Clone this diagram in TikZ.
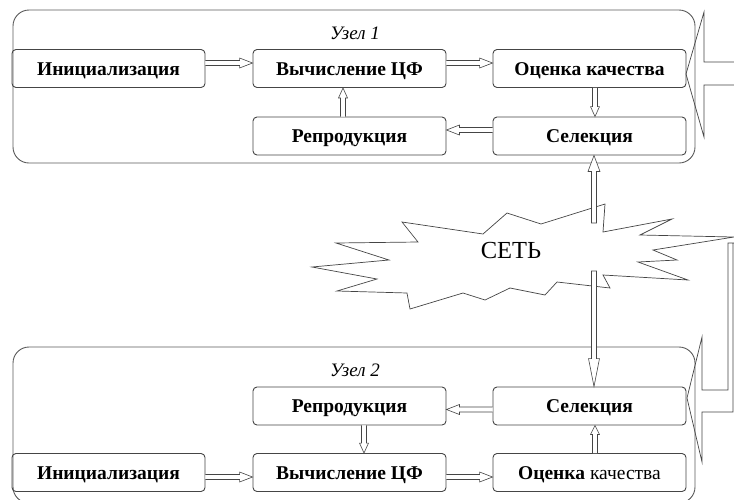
\documentclass[tikz,border=0pt]{standalone}
\usepackage{fontspec}
\setmainfont{Liberation Serif}
\usetikzlibrary{calc}
\definecolor{edge}{HTML}{454545}
\definecolor{frame}{HTML}{5A5A5A}
% hollow block arrow: [path end]{start}{end}{head length}{head half width}
\newcommand\harr[5][]{%
  \coordinate (ha-s) at (#2);
  \coordinate (ha-e) at (#3);
  \coordinate (ha-c) at ($(ha-e)!#4!(ha-s)$);
  \draw[arrowline]
    ($(ha-s)!2.5pt!90:(ha-e)$) -- ($(ha-c)!2.5pt!90:(ha-e)$) -- ($(ha-c)!#5!90:(ha-e)$)
    -- (ha-e) -- ($(ha-c)!#5!-90:(ha-e)$) -- ($(ha-c)!2.5pt!-90:(ha-e)$)
    -- ($(ha-s)!2.5pt!-90:(ha-e)$) #1;%
}
\begin{document}
\begin{tikzpicture}[x=1pt,y=-1pt,
  blk/.style={draw=edge, line width=0.9pt, rounded corners=4pt, minimum width=193pt, minimum height=38pt, inner sep=0pt, text height=13pt, text depth=0pt, font=\fontsize{19.5}{21}\selectfont\bfseries},
  container/.style={draw=frame, line width=0.9pt, rounded corners=16pt},
  lbl/.style={font=\fontsize{19}{21}\selectfont\itshape, inner sep=0pt},
  arrowline/.style={draw=edge, line width=0.6pt, fill=white, line join=miter},
  bigarrow/.style={draw=edge, line width=0.7pt},
]
\useasboundingbox (0,0) rectangle (734,499);

% containers
\draw[container] (13,10) rectangle (695,163);
\draw[container] (13,347) rectangle (695,503);

% node 1
\node[lbl] (u1) at (355,33) {Узел 1};
\node[blk] (init1) at (108.5,68.5) {Инициализация};
\node[blk] (calc1) at (349.5,68.5) {Вычисление ЦФ};
\node[blk] (eval1) at (589.5,68.5) {Оценка качества};
\node[blk] (sel1)  at (589.5,136) {Селекция};
\node[blk] (rep1)  at (349.5,136) {Репродукция};

% node 2
\node[lbl] (u2) at (355,370) {Узел 2};
\node[blk] (rep2)  at (349.5,406) {Репродукция};
\node[blk] (sel2)  at (589.5,406) {Селекция};
\node[blk] (init2) at (108.5,472.5) {Инициализация};
\node[blk] (calc2) at (349.5,472.5) {Вычисление ЦФ};
\node[blk] (eval2) at (589.5,472.5) {\textbf{Оценка} \mdseries качества};

% arrows node 1
\harr{[yshift=5.5pt]init1.east}{[yshift=5.5pt]calc1.west}{13pt}{5pt}
\harr{[yshift=5.5pt]calc1.east}{[yshift=5.5pt]eval1.west}{13pt}{5pt}
\harr{[xshift=5.5pt]eval1.south}{[xshift=5.5pt]sel1.north}{10pt}{4.5pt}
\harr{[yshift=6pt]sel1.west}{[yshift=6pt]rep1.east}{13pt}{5pt}
\harr{[xshift=-6.5pt]rep1.north}{[xshift=-6.5pt]calc1.south}{10pt}{4.5pt}

% arrows node 2
\harr{[yshift=-3.5pt]sel2.west}{[yshift=-3.5pt]rep2.east}{13pt}{5pt}
\harr{[xshift=14.5pt]rep2.south}{[xshift=14.5pt]calc2.north}{10pt}{4.5pt}
\harr{[yshift=-4.5pt]init2.east}{[yshift=-4.5pt]calc2.west}{13pt}{5pt}
\harr{[yshift=-4.5pt]calc2.east}{[yshift=-4.5pt]eval2.west}{13pt}{5pt}
\harr{[xshift=5.5pt]eval2.north}{[xshift=5.5pt]sel2.south}{9pt}{4.5pt}

% network cloud
\draw[draw=edge, line width=0.7pt, fill=white]
  (312,267) -- (389,260) -- (336,243) -- (418,242) -- (402,222) -- (483,234)
  -- (507,213) -- (541,224) -- (605,204) -- (603,232) -- (672,219) -- (640,235)
  -- (734,237) -- (653,250) -- (677,260) -- (638,262) -- (688,280) -- (603,275)
  -- (610,288) -- (557,282) -- (545,295) -- (510,288) -- (485,300) -- (463,293)
  -- (410,309) -- (407,293) -- (337,291) -- (377,279) -- cycle;
\node[font=\fontsize{24.5}{26}\selectfont, inner sep=0pt] (net) at (511,251) {СЕТЬ};
\coordinate (nettop) at (594,223);
\coordinate (netbot) at (594,271);
\harr[-- cycle]{nettop}{nettop |- sel1.south}{16pt}{6pt}
\harr[-- cycle]{netbot}{netbot |- sel2.north}{28pt}{5.5pt}

% big block arrows on the right
\draw[bigarrow] (736,62) -- (704,62) -- (704,12) -- (686,74) -- (704,137) -- (704,85) -- (736,85);
\draw[bigarrow] (736,243) -- (728,243) -- (728,390) -- (702,390) -- (702,337) -- (687,398)
  -- (702,462) -- (702,412) -- (733,412) -- (733,243);
\end{tikzpicture}
\end{document}
